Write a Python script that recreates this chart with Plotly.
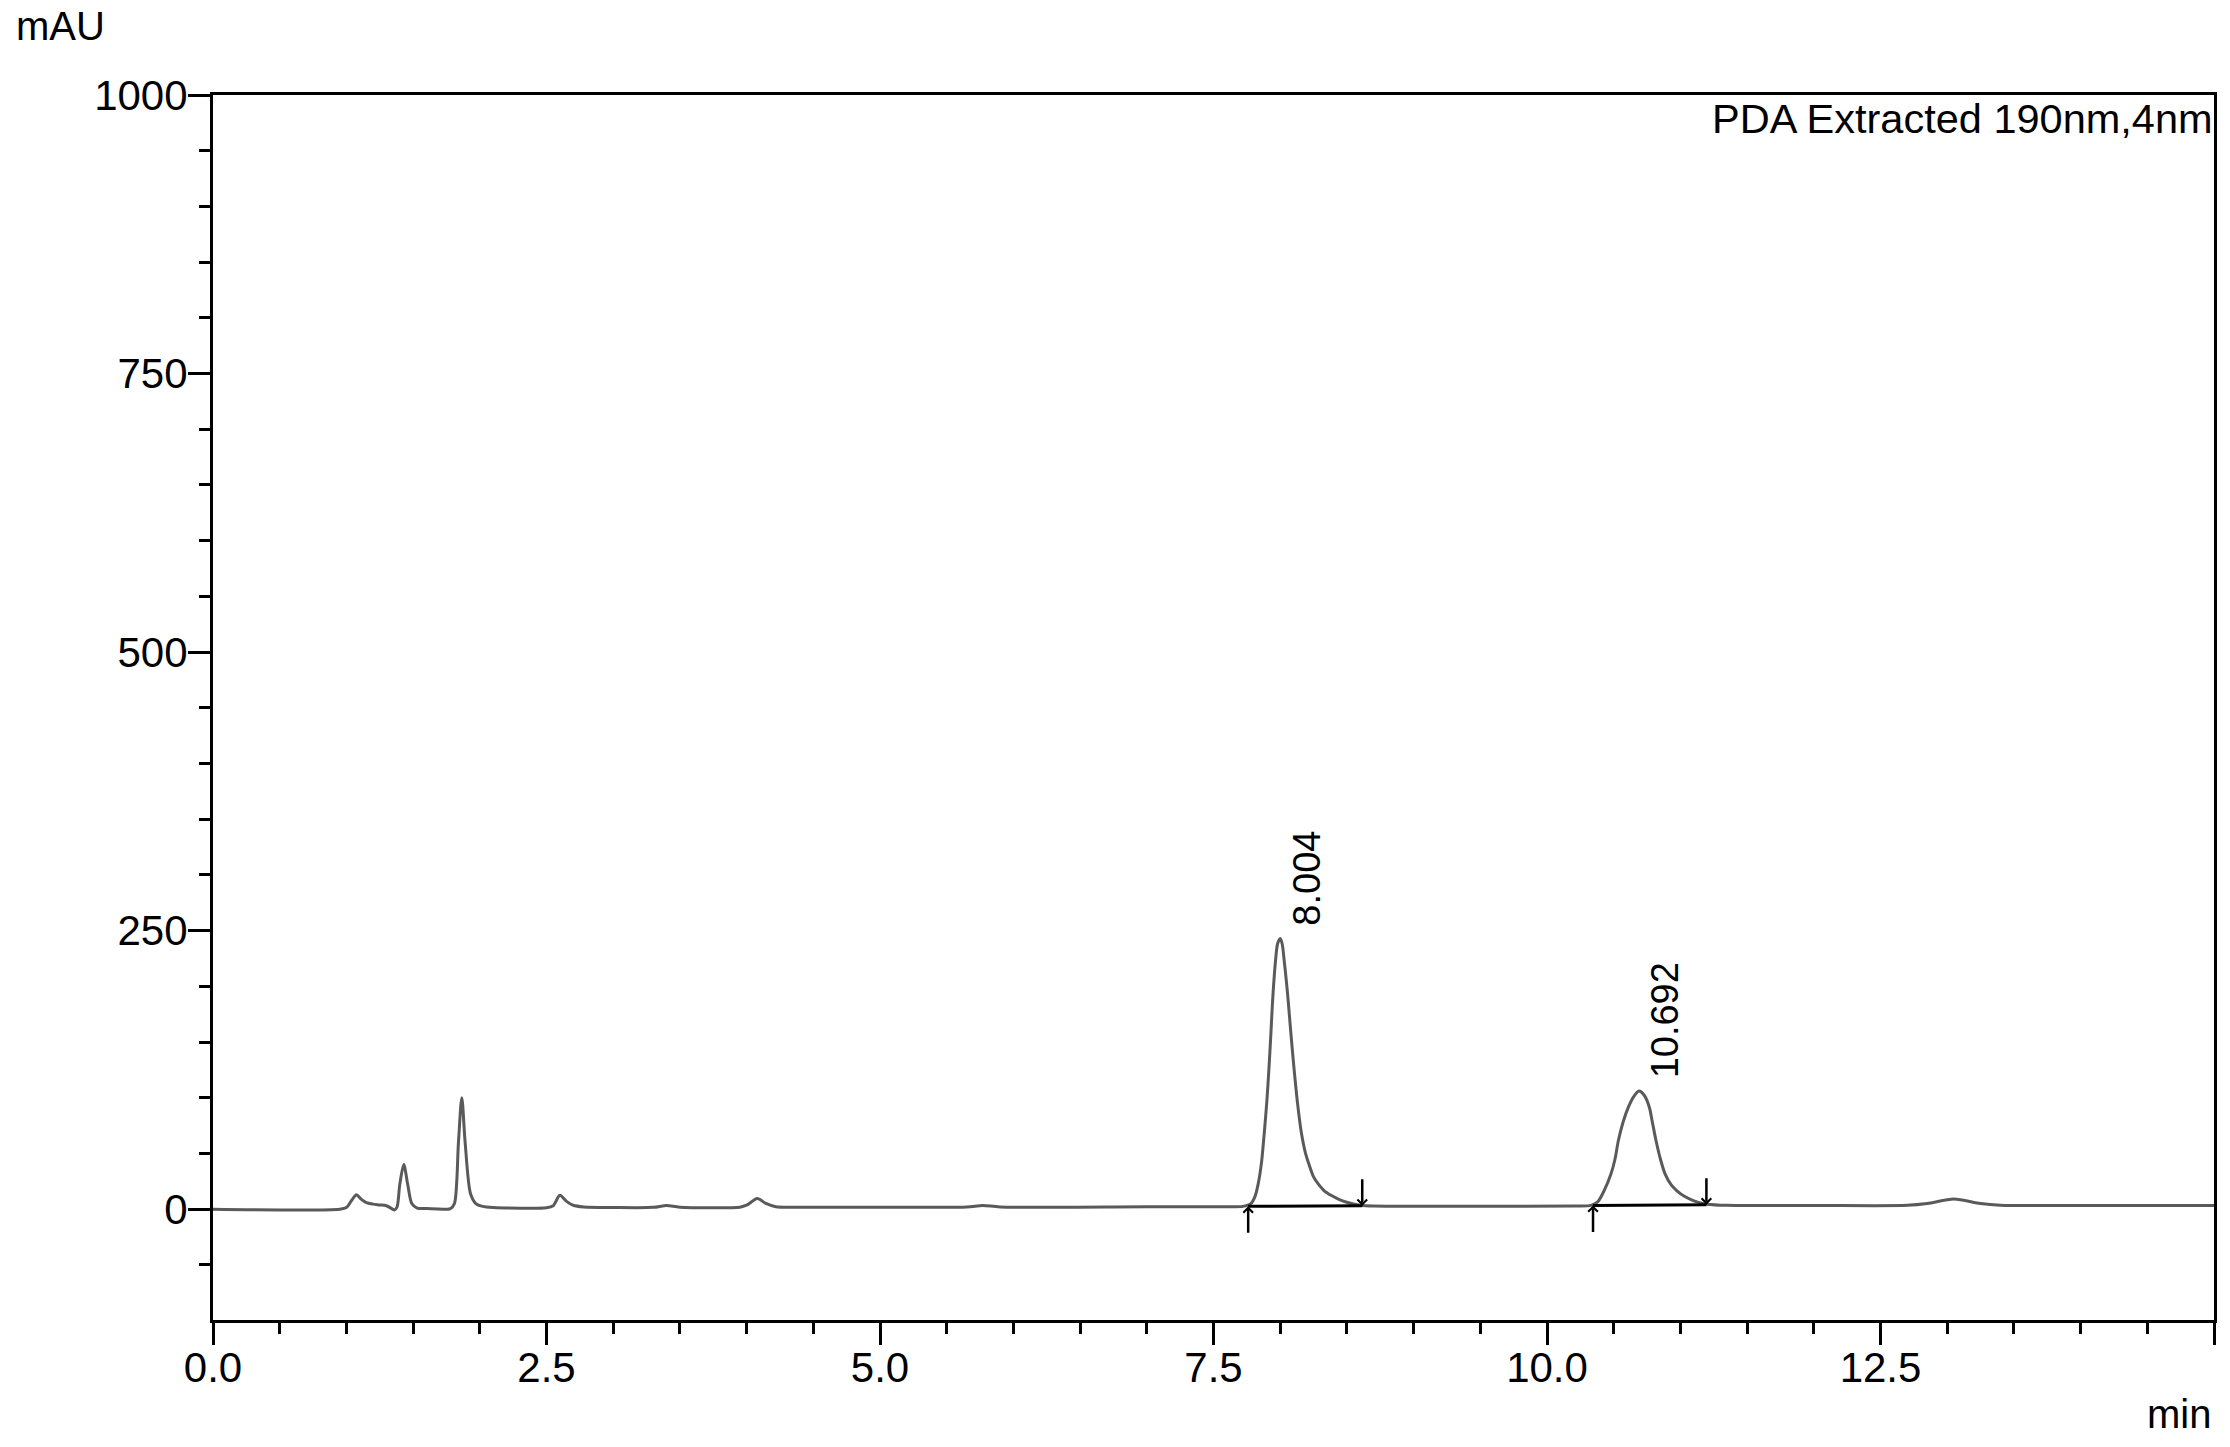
import plotly.graph_objects as go

# chromatogram (time in min, signal in mAU)
time_min = [0.0, 0.95, 1.00, 1.04, 1.075, 1.11, 1.15, 1.20, 1.25, 1.30, 1.34, 1.36,
            1.38, 1.40, 1.43, 1.46, 1.49, 1.53, 1.60, 1.78, 1.81, 1.84, 1.865, 1.89,
            1.93, 1.97, 2.02, 2.10, 2.50, 2.55, 2.60, 2.65, 2.70, 2.78, 3.00, 3.30,
            3.40, 3.50, 3.95, 4.00, 4.08, 4.14, 4.22, 4.40, 5.00, 5.65, 5.77, 5.90,
            7.00, 7.60, 7.72, 7.78, 7.81, 7.835, 7.86, 7.88, 7.90, 7.916, 7.93, 7.943,
            7.965, 7.98, 8.00, 8.015, 8.03, 8.045, 8.06, 8.08, 8.103, 8.13, 8.16,
            8.19, 8.223, 8.25, 8.285, 8.33, 8.385, 8.44, 8.498, 8.55, 8.60, 8.70,
            9.50, 10.20, 10.33, 10.38, 10.43, 10.48, 10.51, 10.535, 10.57, 10.61,
            10.65, 10.69, 10.73, 10.767, 10.79, 10.817, 10.85, 10.885, 10.93,
            10.972, 11.03, 11.097, 11.15, 11.20, 11.35, 12.00, 12.70, 12.85, 13.05,
            13.25, 13.40, 14.00, 15.00]
signal_mau = [0.0, 0.0, 1.5, 8, 13, 9, 5.8, 4.5, 3.8, 3.0, 0.5, -0.8,
              2, 22, 40, 22, 5, 1, 0.5, 0.5, 5, 60, 100, 60,
              14, 5, 2.5, 1.5, 1.2, 3, 12.5, 7, 3.5, 2, 1.5, 1.6,
              3.2, 1.8, 1.8, 3.5, 9.5, 5.5, 2.2, 1.8, 1.8, 1.9, 3.3, 2.0,
              2.1, 2.2, 2.5, 5, 11, 22.7, 42, 67.6, 97, 127, 157, 187,
              223, 238, 243, 238, 223, 206, 187, 158, 127, 95, 67.6,
              50, 37.6, 29, 22.7, 16.5, 12.2, 8.8, 6.2, 4.6, 3.5, 2.8,
              2.6, 2.9, 3.4, 6.5, 17, 31.7, 45, 61.6, 78, 91.5,
              101, 106, 102, 91.5, 78, 61.6, 45, 31.7, 22,
              16.7, 11.5, 7.7, 5.6, 4.4, 3.4, 3.3, 3.4, 5, 9,
              5, 3.6, 3.3, 3.3]

# integrated peaks
peak_rt = [8.004, 10.692]
peak_labels = ["8.004", "10.692"]
peak_apex = [243, 106]
peak_start = [7.76, 10.345]
peak_end = [8.615, 11.195]
base_start = [2.5, 3.3]
base_end = [3.0, 4.0]

x_tickvals = [0, 2.5, 5, 7.5, 10, 12.5, 15]
x_ticktext = ["0.0", "2.5", "5.0", "7.5", "10.0", "12.5", ""]
y_tickvals = [0, 250, 500, 750, 1000]
y_ticktext = ["0", "250", "500", "750", "1000"]

W, H = 2230, 1447
ML, MR, MT, MB = 213, 16, 95, 127
FONT = "Liberation Sans, Arial, sans-serif"


def px_x(px):
    return (px - ML) / (W - ML - MR)


def px_y(py):
    return (H - MB - py) / (H - MT - MB)


fig = go.Figure()
fig.add_trace(go.Scatter(x=time_min, y=signal_mau, mode="lines",
                         line=dict(color="#5a5a5a", width=3, shape="spline", smoothing=0.8),
                         hoverinfo="skip"))

for s, e, bs, be in zip(peak_start, peak_end, base_start, base_end):
    fig.add_trace(go.Scatter(x=[s, e], y=[bs, be], mode="lines",
                             line=dict(color="black", width=3), hoverinfo="skip"))

annotations = []
for s, e, bs, be in zip(peak_start, peak_end, base_start, base_end):
    annotations.append(dict(x=s, y=bs, text="", showarrow=True, ax=0, ay=28,
                            arrowhead=4, arrowsize=0.75, arrowwidth=2.5,
                            arrowcolor="black", standoff=0))
    annotations.append(dict(x=e, y=be, text="", showarrow=True, ax=0, ay=-28,
                            arrowhead=4, arrowsize=0.75, arrowwidth=2.5,
                            arrowcolor="black", standoff=0))

for rt, lab, top in zip(peak_rt, peak_labels, peak_apex):
    annotations.append(dict(x=rt, y=top, text=lab, showarrow=False, textangle=-90,
                            xanchor="center", yanchor="bottom", xshift=26, yshift=11,
                            font=dict(family=FONT, size=38, color="black")))

annotations += [
    dict(xref="paper", yref="paper", x=px_x(14), y=px_y(26), text="mAU",
         showarrow=False, xanchor="left", yanchor="middle",
         font=dict(family=FONT, size=40, color="black")),
    dict(xref="paper", yref="paper", x=px_x(2213), y=px_y(1414), text="min",
         showarrow=False, xanchor="right", yanchor="middle",
         font=dict(family=FONT, size=40, color="black")),
    dict(xref="paper", yref="paper", x=px_x(2215), y=px_y(118),
         text="PDA Extracted 190nm,4nm", showarrow=False,
         xanchor="right", yanchor="middle",
         font=dict(family=FONT, size=41.5, color="black")),
]

fig.update_layout(width=W, height=H,
                  margin=dict(l=ML, r=MR, t=MT, b=MB),
                  paper_bgcolor="white", plot_bgcolor="white",
                  showlegend=False,
                  font=dict(family=FONT, size=40, color="black"),
                  annotations=annotations)

fig.update_xaxes(range=[0, 15], tickmode="array", tickvals=x_tickvals, ticktext=x_ticktext,
                 ticks="outside", ticklen=22, tickwidth=2.5, tickcolor="black",
                 ticklabelstandoff=-13,
                 minor=dict(tick0=0, dtick=0.5, ticks="outside", ticklen=11,
                            tickwidth=2.5, tickcolor="black"),
                 showline=True, linewidth=3, linecolor="black", mirror=True,
                 showgrid=False, zeroline=False,
                 tickfont=dict(family=FONT, size=42, color="black"))
fig.update_yaxes(range=[-99.5, 1000], tickmode="array", tickvals=y_tickvals, ticktext=y_ticktext,
                 ticks="outside", ticklen=22, tickwidth=2.5, tickcolor="black",
                 ticklabelstandoff=-8,
                 minor=dict(tick0=0, dtick=50, ticks="outside", ticklen=11,
                            tickwidth=2.5, tickcolor="black"),
                 showline=True, linewidth=3, linecolor="black", mirror=True,
                 showgrid=False, zeroline=False,
                 tickfont=dict(family=FONT, size=42, color="black"))

fig.write_html("out.html", config={"displayModeBar": False},
               post_script="document.body.style.margin='0';")
